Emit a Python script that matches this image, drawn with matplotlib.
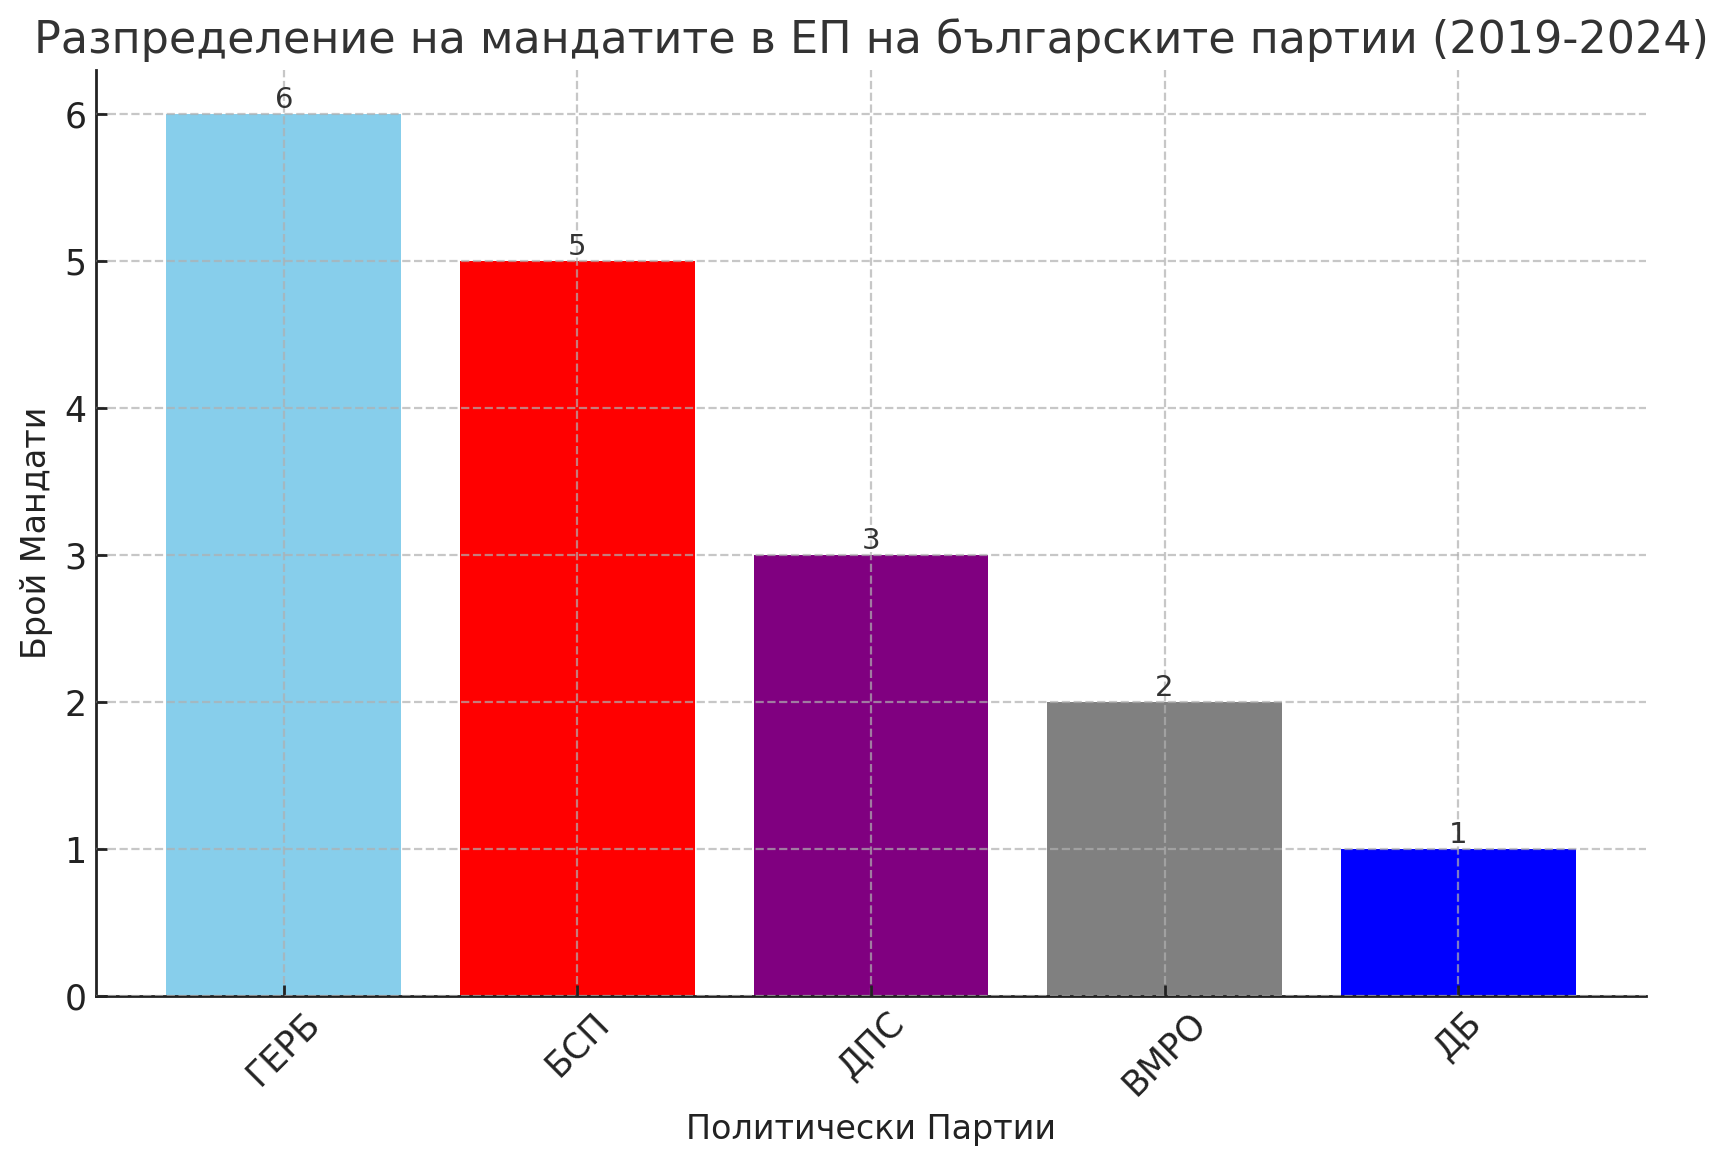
import matplotlib
matplotlib.use("Agg")
import matplotlib.pyplot as plt

parties = ["ГЕРБ", "БСП", "ДПС", "ВМРО", "ДБ"]
seats = [6, 5, 3, 2, 1]
colors = ["skyblue", "red", "purple", "gray", "blue"]

title = "Разпределение на мандатите в ЕП на българските партии (2019-2024)"
xlabel = "Политически Партии"
ylabel = "Брой Мандати"

plt.rcParams['font.family'] = ['DejaVu Sans']
fig = plt.figure(figsize=(1727/200, 1161/200), dpi=200)
ax = fig.add_axes([96/1727, 1-996/1161, (1646-96)/1727, (996-70)/1161])

bars = ax.bar(parties, seats, color=colors, width=0.8, zorder=1)
for b, v in zip(bars, seats):
    ax.text(b.get_x() + b.get_width()/2, v, str(v), ha='center', va='bottom',
            fontsize=10.5, color='#333333')

ax.set_title(title, fontsize=16, color='#333333', pad=6)
ax.set_xlabel(xlabel, fontsize=12, color='#222222', labelpad=4)
ax.set_ylabel(ylabel, fontsize=12, color='#222222', labelpad=4)

ax.grid(True, linestyle='--', color='#b0b0b0', alpha=0.7, linewidth=0.8, zorder=2)
ax.set_axisbelow(False)
for s in ['top', 'right']:
    ax.spines[s].set_visible(False)
for s in ['left', 'bottom']:
    ax.spines[s].set_color('#222222')
    ax.spines[s].set_linewidth(1.0)
ax.tick_params(direction='in', length=4, width=1.0, colors='#222222', labelsize=12.5)
plt.setp(ax.get_xticklabels(), rotation=45)

fig.savefig("out.png", dpi=200)
